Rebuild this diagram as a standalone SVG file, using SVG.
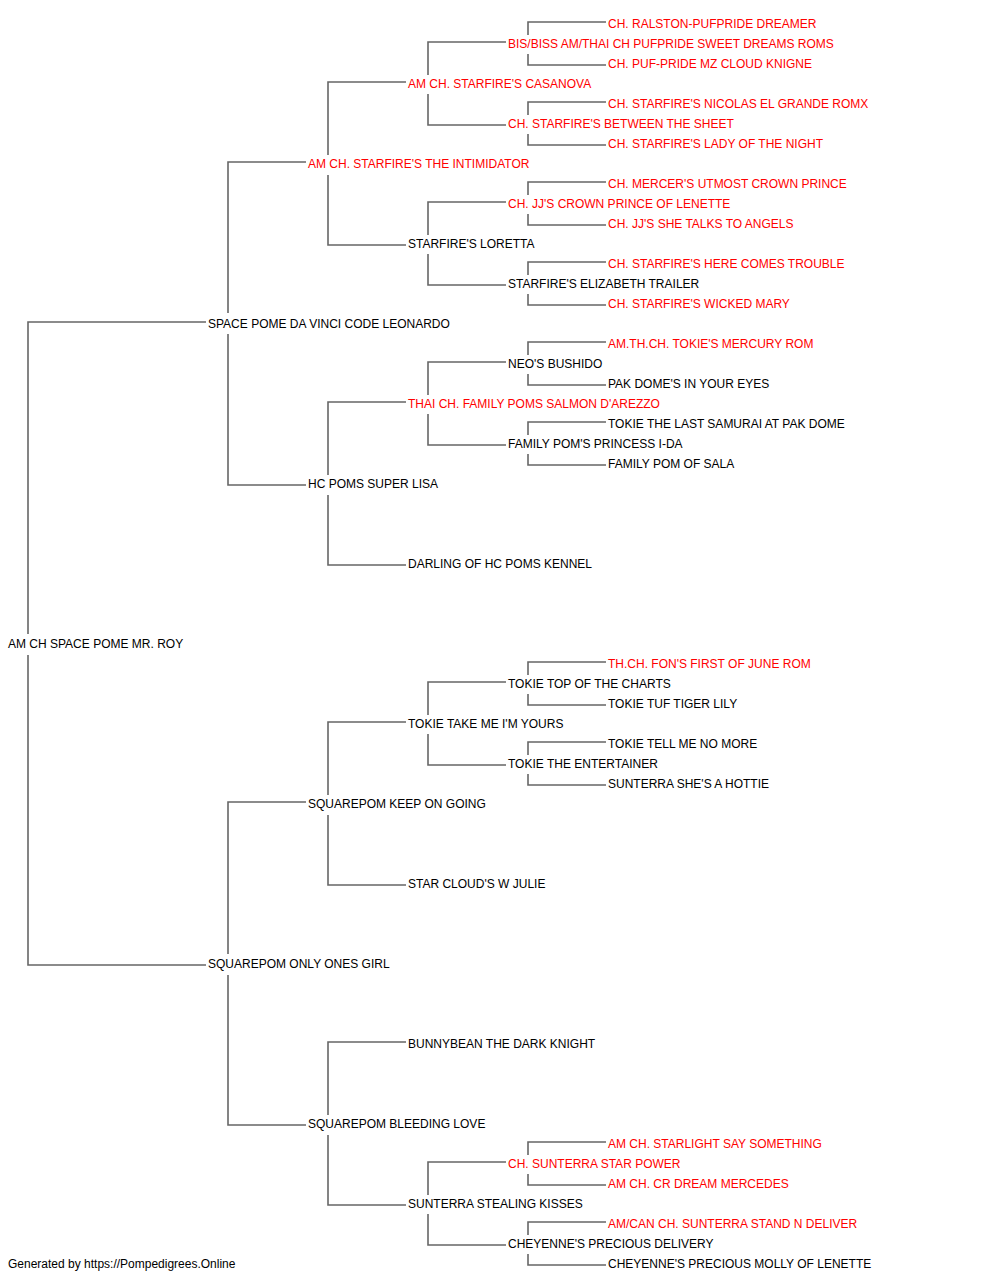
<svg xmlns="http://www.w3.org/2000/svg" width="1000" height="1280" viewBox="0 0 1000 1280">
<style>
text{font-family:"Liberation Sans",Arial,sans-serif;font-size:12px;fill:#000}
text.ch{fill:#ff0000}
#connectors path{fill:none;stroke:#666666;stroke-width:1.6}
</style>
<rect width="1000" height="1280" fill="#fff"/>
<g id="connectors">
<path d="M206,322 H28 V634 M28,655 V965 H206"/>
<path d="M306,162 H228 V313 M228,334 V485 H306"/>
<path d="M306,802 H228 V954 M228,975 V1125 H306"/>
<path d="M406,82 H328 V155 M328,175 V245 H406"/>
<path d="M406,402 H328 V475 M328,495 V565 H406"/>
<path d="M406,722 H328 V795 M328,815 V885 H406"/>
<path d="M406,1042 H328 V1115 M328,1135 V1205 H406"/>
<path d="M506,42 H428 V75 M428,94 V125 H506"/>
<path d="M506,202 H428 V235 M428,254 V285 H506"/>
<path d="M506,362 H428 V395 M428,414 V445 H506"/>
<path d="M506,682 H428 V715 M428,734 V765 H506"/>
<path d="M506,1162 H428 V1195 M428,1214 V1245 H506"/>
<path d="M606,22 H528 V35 M528,54 V65 H606"/>
<path d="M606,102 H528 V115 M528,134 V145 H606"/>
<path d="M606,182 H528 V195 M528,214 V225 H606"/>
<path d="M606,262 H528 V275 M528,294 V305 H606"/>
<path d="M606,342 H528 V355 M528,374 V385 H606"/>
<path d="M606,422 H528 V435 M528,454 V465 H606"/>
<path d="M606,662 H528 V675 M528,694 V705 H606"/>
<path d="M606,742 H528 V755 M528,774 V785 H606"/>
<path d="M606,1142 H528 V1155 M528,1174 V1185 H606"/>
<path d="M606,1222 H528 V1235 M528,1254 V1265 H606"/>
</g>
<g id="n-roy"><text x="8" y="648">AM CH SPACE POME MR. ROY</text></g>
<g id="n-leonardo"><text x="208" y="328">SPACE POME DA VINCI CODE LEONARDO</text></g>
<g id="n-onlyones"><text x="208" y="968">SQUAREPOM ONLY ONES GIRL</text></g>
<g id="n-intimidator"><text class="ch" x="308" y="168">AM CH. STARFIRE'S THE INTIMIDATOR</text></g>
<g id="n-superlisa"><text x="308" y="488">HC POMS SUPER LISA</text></g>
<g id="n-keepongoing"><text x="308" y="808">SQUAREPOM KEEP ON GOING</text></g>
<g id="n-bleedinglove"><text x="308" y="1128">SQUAREPOM BLEEDING LOVE</text></g>
<g id="n-casanova"><text class="ch" x="408" y="88">AM CH. STARFIRE'S CASANOVA</text></g>
<g id="n-loretta"><text x="408" y="248">STARFIRE'S LORETTA</text></g>
<g id="n-salmon"><text class="ch" x="408" y="408">THAI CH. FAMILY POMS SALMON D'AREZZO</text></g>
<g id="n-darling"><text x="408" y="568">DARLING OF HC POMS KENNEL</text></g>
<g id="n-takeme"><text x="408" y="728">TOKIE TAKE ME I'M YOURS</text></g>
<g id="n-starcloud"><text x="408" y="888">STAR CLOUD'S W JULIE</text></g>
<g id="n-bunnybean"><text x="408" y="1048">BUNNYBEAN THE DARK KNIGHT</text></g>
<g id="n-stealing"><text x="408" y="1208">SUNTERRA STEALING KISSES</text></g>
<g id="n-sweetdreams"><text class="ch" x="508" y="48">BIS/BISS AM/THAI CH PUFPRIDE SWEET DREAMS ROMS</text></g>
<g id="n-between"><text class="ch" x="508" y="128">CH. STARFIRE'S BETWEEN THE SHEET</text></g>
<g id="n-jjcrown"><text class="ch" x="508" y="208">CH. JJ'S CROWN PRINCE OF LENETTE</text></g>
<g id="n-elizabeth"><text x="508" y="288">STARFIRE'S ELIZABETH TRAILER</text></g>
<g id="n-bushido"><text x="508" y="368">NEO'S BUSHIDO</text></g>
<g id="n-ida"><text x="508" y="448">FAMILY POM'S PRINCESS I-DA</text></g>
<g id="n-topcharts"><text x="508" y="688">TOKIE TOP OF THE CHARTS</text></g>
<g id="n-entertainer"><text x="508" y="768">TOKIE THE ENTERTAINER</text></g>
<g id="n-starpower"><text class="ch" x="508" y="1168">CH. SUNTERRA STAR POWER</text></g>
<g id="n-delivery"><text x="508" y="1248">CHEYENNE'S PRECIOUS DELIVERY</text></g>
<g id="n-ralston"><text class="ch" x="608" y="28">CH. RALSTON-PUFPRIDE DREAMER</text></g>
<g id="n-cloud"><text class="ch" x="608" y="68">CH. PUF-PRIDE MZ CLOUD KNIGNE</text></g>
<g id="n-nicolas"><text class="ch" x="608" y="108">CH. STARFIRE'S NICOLAS EL GRANDE ROMX</text></g>
<g id="n-ladynight"><text class="ch" x="608" y="148">CH. STARFIRE'S LADY OF THE NIGHT</text></g>
<g id="n-mercer"><text class="ch" x="608" y="188">CH. MERCER'S UTMOST CROWN PRINCE</text></g>
<g id="n-angels"><text class="ch" x="608" y="228">CH. JJ'S SHE TALKS TO ANGELS</text></g>
<g id="n-trouble"><text class="ch" x="608" y="268">CH. STARFIRE'S HERE COMES TROUBLE</text></g>
<g id="n-wickedmary"><text class="ch" x="608" y="308">CH. STARFIRE'S WICKED MARY</text></g>
<g id="n-mercury"><text class="ch" x="608" y="348">AM.TH.CH. TOKIE'S MERCURY ROM</text></g>
<g id="n-pakdome"><text x="608" y="388">PAK DOME'S IN YOUR EYES</text></g>
<g id="n-samurai"><text x="608" y="428">TOKIE THE LAST SAMURAI AT PAK DOME</text></g>
<g id="n-sala"><text x="608" y="468">FAMILY POM OF SALA</text></g>
<g id="n-fon"><text class="ch" x="608" y="668">TH.CH. FON'S FIRST OF JUNE ROM</text></g>
<g id="n-tiger"><text x="608" y="708">TOKIE TUF TIGER LILY</text></g>
<g id="n-tellme"><text x="608" y="748">TOKIE TELL ME NO MORE</text></g>
<g id="n-hottie"><text x="608" y="788">SUNTERRA SHE'S A HOTTIE</text></g>
<g id="n-starlight"><text class="ch" x="608" y="1148">AM CH. STARLIGHT SAY SOMETHING</text></g>
<g id="n-mercedes"><text class="ch" x="608" y="1188">AM CH. CR DREAM MERCEDES</text></g>
<g id="n-standn"><text class="ch" x="608" y="1228">AM/CAN CH. SUNTERRA STAND N DELIVER</text></g>
<g id="n-molly"><text x="608" y="1268">CHEYENNE'S PRECIOUS MOLLY OF LENETTE</text></g>
<g id="footer"><text x="8" y="1268">Generated by https://Pompedigrees.Online</text></g>
</svg>
